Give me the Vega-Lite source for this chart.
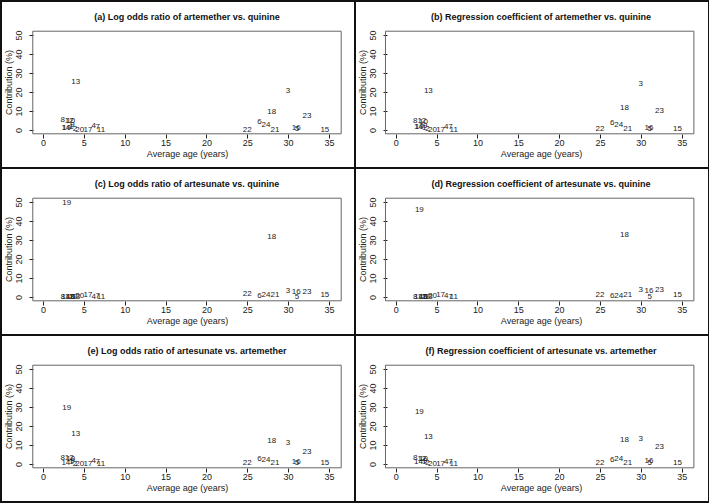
{
  "$schema": "https://vega.github.io/schema/vega-lite/v6.json",
  "padding": 0,
  "background": "white",
  "config": {
    "view": {"stroke": "#111", "strokeWidth": 2},
    "font": "Liberation Sans",
    "axis": {"domain": false, "grid": false, "tickSize": 4, "tickColor": "#222", "labelFontSize": 9, "labelColor": "#222", "labelFont": "Liberation Sans", "titleFont": "Liberation Sans", "titleFontSize": 9, "titleFontWeight": "normal", "titleColor": "#222", "labelFlush": false, "labelOverlap": false},
    "title": {"font": "Liberation Sans", "fontSize": 9, "fontWeight": "bold", "color": "#111", "anchor": "middle", "frame": "group", "offset": -21, "baseline": "middle", "dx": 9}
  },
  "datasets": {
    "s": [
      {"study": "1", "age": 3.5, "a": 1.5, "b": 1.2, "c": 0, "d": 0, "e": 0.8, "f": 0.8},
      {"study": "2", "age": 3.9, "a": 0.3, "b": 0.3, "c": 0, "d": 0, "e": 0.2, "f": 0.3},
      {"study": "3", "age": 30.0, "a": 20.5, "b": 24.0, "c": 3.3, "d": 3.9, "e": 10.9, "f": 13.2},
      {"study": "4", "age": 6.2, "a": 2.0, "b": 1.6, "c": 0, "d": 0.3, "e": 1.4, "f": 1.2},
      {"study": "5", "age": 31.1, "a": 0.7, "b": 0.7, "c": 0, "d": 0, "e": 0.3, "f": 0.5},
      {"study": "6", "age": 26.5, "a": 4.4, "b": 3.7, "c": 0.3, "d": 0.5, "e": 2.4, "f": 2.2},
      {"study": "7", "age": 6.7, "a": 1.6, "b": 1.4, "c": 0.3, "d": 0.2, "e": 1.2, "f": 1.0},
      {"study": "8", "age": 2.4, "a": 5.1, "b": 5.0, "c": 0, "d": 0, "e": 2.9, "f": 3.0},
      {"study": "9", "age": 3.6, "a": 2.5, "b": 2.2, "c": 0, "d": 0, "e": 1.5, "f": 1.5},
      {"study": "10", "age": 3.4, "a": 4.6, "b": 4.2, "c": 0, "d": 0, "e": 2.6, "f": 2.5},
      {"study": "11", "age": 7.1, "a": 0, "b": 0, "c": 0, "d": 0, "e": 0, "f": 0},
      {"study": "12", "age": 3.2, "a": 5.0, "b": 4.9, "c": 0, "d": 0, "e": 2.9, "f": 2.8},
      {"study": "13", "age": 4.0, "a": 25.4, "b": 20.5, "c": 0, "d": 0, "e": 15.8, "f": 14.0},
      {"study": "14", "age": 2.8, "a": 1.0, "b": 1.6, "c": 0, "d": 0, "e": 0.7, "f": 0.9},
      {"study": "15", "age": 34.5, "a": 0.2, "b": 0.3, "c": 0.8, "d": 0.9, "e": 0.3, "f": 0.3},
      {"study": "16", "age": 31.0, "a": 0.8, "b": 1.0, "c": 2.6, "d": 3.2, "e": 1.2, "f": 1.6},
      {"study": "17", "age": 5.5, "a": 0, "b": 0, "c": 1.2, "d": 1.0, "e": 0, "f": 0},
      {"study": "18", "age": 28.0, "a": 9.3, "b": 11.4, "c": 31.6, "d": 32.8, "e": 12.3, "f": 12.6},
      {"study": "19", "age": 2.9, "a": 1.2, "b": 1.6, "c": 49.3, "d": 45.6, "e": 29.3, "f": 27.5},
      {"study": "20", "age": 4.5, "a": 0, "b": 0, "c": 0.3, "d": 0.3, "e": 0, "f": 0},
      {"study": "21", "age": 28.4, "a": 0.2, "b": 0.3, "c": 1.2, "d": 1.2, "e": 0.5, "f": 0.5},
      {"study": "22", "age": 25.0, "a": 0.2, "b": 0.3, "c": 1.6, "d": 1.3, "e": 0.5, "f": 0.5},
      {"study": "23", "age": 32.3, "a": 7.4, "b": 10.0, "c": 2.6, "d": 3.5, "e": 6.3, "f": 9.1},
      {"study": "24", "age": 27.3, "a": 2.6, "b": 2.6, "c": 0.8, "d": 0.7, "e": 2.2, "f": 2.4}
    ]
  },
  "columns": 2,
  "spacing": 0,
  "bounds": "flush",
  "concat": [
    {
      "width": 354, "height": 167,
      "title": {"text": "(a) Log odds ratio of artemether vs. quinine"},
      "layer": [
        {"data": {"values": [{}]}, "mark": {"type": "rect", "fillOpacity": 0, "stroke": "#666", "strokeWidth": 1},
         "encoding": {
           "x": {"datum": -1.25, "type": "quantitative", "scale": {"domain": [-5.14, 38.19], "nice": false, "zero": false}, "axis": {"title": "Average age (years)", "values": [0, 5, 10, 15, 20, 25, 30, 35], "offset": -34, "labelPadding": 0, "titlePadding": 2, "titleX": 186, "labelOverlap": false}},
           "x2": {"datum": 36.5},
           "y": {"datum": -2, "type": "quantitative", "scale": {"domain": [-20, 67.9], "nice": false, "zero": false}, "axis": {"title": "Contribution (%)", "values": [0, 10, 20, 30, 40, 50], "offset": -32, "labelAngle": 270, "labelAlign": "center", "labelBaseline": "bottom", "labelPadding": 6, "labelOverlap": false, "titleX": -25, "titleY": 81, "titleAngle": 270, "titleAlign": "center", "titleBaseline": "middle"}},
           "y2": {"datum": 52}}},
        {"data": {"name": "s"}, "mark": {"type": "text", "fontSize": 8, "color": "#222", "align": "center", "baseline": "middle"},
         "encoding": {
           "x": {"field": "age", "type": "quantitative", "axis": {"title": "Average age (years)", "values": [0, 5, 10, 15, 20, 25, 30, 35], "offset": -34, "labelPadding": 0, "titlePadding": 2, "titleX": 186, "labelOverlap": false}},
           "y": {"field": "a", "type": "quantitative", "axis": {"title": "Contribution (%)", "values": [0, 10, 20, 30, 40, 50], "offset": -32, "labelAngle": 270, "labelAlign": "center", "labelBaseline": "bottom", "labelPadding": 6, "labelOverlap": false, "titleX": -25, "titleY": 81, "titleAngle": 270, "titleAlign": "center", "titleBaseline": "middle"}},
           "text": {"field": "study"}}}
      ]
    },
    {
      "width": 354, "height": 167,
      "title": {"text": "(b) Regression coefficient of artemether vs. quinine"},
      "layer": [
        {"data": {"values": [{}]}, "mark": {"type": "rect", "fillOpacity": 0, "stroke": "#666", "strokeWidth": 1},
         "encoding": {
           "x": {"datum": -1.25, "type": "quantitative", "scale": {"domain": [-4.98, 38.35], "nice": false, "zero": false}, "axis": {"title": "Average age (years)", "values": [0, 5, 10, 15, 20, 25, 30, 35], "offset": -34, "labelPadding": 0, "titlePadding": 2, "titleX": 186, "labelOverlap": false}},
           "x2": {"datum": 36.5},
           "y": {"datum": -2, "type": "quantitative", "scale": {"domain": [-20, 67.9], "nice": false, "zero": false}, "axis": {"title": "Contribution (%)", "values": [0, 10, 20, 30, 40, 50], "offset": -32, "labelAngle": 270, "labelAlign": "center", "labelBaseline": "bottom", "labelPadding": 6, "labelOverlap": false, "titleX": -25, "titleY": 81, "titleAngle": 270, "titleAlign": "center", "titleBaseline": "middle"}},
           "y2": {"datum": 52}}},
        {"data": {"name": "s"}, "mark": {"type": "text", "fontSize": 8, "color": "#222", "align": "center", "baseline": "middle"},
         "encoding": {
           "x": {"field": "age", "type": "quantitative", "axis": {"title": "Average age (years)", "values": [0, 5, 10, 15, 20, 25, 30, 35], "offset": -34, "labelPadding": 0, "titlePadding": 2, "titleX": 186, "labelOverlap": false}},
           "y": {"field": "b", "type": "quantitative", "axis": {"title": "Contribution (%)", "values": [0, 10, 20, 30, 40, 50], "offset": -32, "labelAngle": 270, "labelAlign": "center", "labelBaseline": "bottom", "labelPadding": 6, "labelOverlap": false, "titleX": -25, "titleY": 81, "titleAngle": 270, "titleAlign": "center", "titleBaseline": "middle"}},
           "text": {"field": "study"}}}
      ]
    },
    {
      "width": 354, "height": 167,
      "title": {"text": "(c) Log odds ratio of artesunate vs. quinine"},
      "layer": [
        {"data": {"values": [{}]}, "mark": {"type": "rect", "fillOpacity": 0, "stroke": "#666", "strokeWidth": 1},
         "encoding": {
           "x": {"datum": -1.25, "type": "quantitative", "scale": {"domain": [-5.14, 38.19], "nice": false, "zero": false}, "axis": {"title": "Average age (years)", "values": [0, 5, 10, 15, 20, 25, 30, 35], "offset": -34, "labelPadding": 0, "titlePadding": 2, "titleX": 186, "labelOverlap": false}},
           "x2": {"datum": 36.5},
           "y": {"datum": -2, "type": "quantitative", "scale": {"domain": [-20, 67.9], "nice": false, "zero": false}, "axis": {"title": "Contribution (%)", "values": [0, 10, 20, 30, 40, 50], "offset": -32, "labelAngle": 270, "labelAlign": "center", "labelBaseline": "bottom", "labelPadding": 6, "labelOverlap": false, "titleX": -25, "titleY": 81, "titleAngle": 270, "titleAlign": "center", "titleBaseline": "middle"}},
           "y2": {"datum": 52}}},
        {"data": {"name": "s"}, "mark": {"type": "text", "fontSize": 8, "color": "#222", "align": "center", "baseline": "middle"},
         "encoding": {
           "x": {"field": "age", "type": "quantitative", "axis": {"title": "Average age (years)", "values": [0, 5, 10, 15, 20, 25, 30, 35], "offset": -34, "labelPadding": 0, "titlePadding": 2, "titleX": 186, "labelOverlap": false}},
           "y": {"field": "c", "type": "quantitative", "axis": {"title": "Contribution (%)", "values": [0, 10, 20, 30, 40, 50], "offset": -32, "labelAngle": 270, "labelAlign": "center", "labelBaseline": "bottom", "labelPadding": 6, "labelOverlap": false, "titleX": -25, "titleY": 81, "titleAngle": 270, "titleAlign": "center", "titleBaseline": "middle"}},
           "text": {"field": "study"}}}
      ]
    },
    {
      "width": 354, "height": 167,
      "title": {"text": "(d) Regression coefficient of artesunate vs. quinine"},
      "layer": [
        {"data": {"values": [{}]}, "mark": {"type": "rect", "fillOpacity": 0, "stroke": "#666", "strokeWidth": 1},
         "encoding": {
           "x": {"datum": -1.25, "type": "quantitative", "scale": {"domain": [-4.98, 38.35], "nice": false, "zero": false}, "axis": {"title": "Average age (years)", "values": [0, 5, 10, 15, 20, 25, 30, 35], "offset": -34, "labelPadding": 0, "titlePadding": 2, "titleX": 186, "labelOverlap": false}},
           "x2": {"datum": 36.5},
           "y": {"datum": -2, "type": "quantitative", "scale": {"domain": [-20, 67.9], "nice": false, "zero": false}, "axis": {"title": "Contribution (%)", "values": [0, 10, 20, 30, 40, 50], "offset": -32, "labelAngle": 270, "labelAlign": "center", "labelBaseline": "bottom", "labelPadding": 6, "labelOverlap": false, "titleX": -25, "titleY": 81, "titleAngle": 270, "titleAlign": "center", "titleBaseline": "middle"}},
           "y2": {"datum": 52}}},
        {"data": {"name": "s"}, "mark": {"type": "text", "fontSize": 8, "color": "#222", "align": "center", "baseline": "middle"},
         "encoding": {
           "x": {"field": "age", "type": "quantitative", "axis": {"title": "Average age (years)", "values": [0, 5, 10, 15, 20, 25, 30, 35], "offset": -34, "labelPadding": 0, "titlePadding": 2, "titleX": 186, "labelOverlap": false}},
           "y": {"field": "d", "type": "quantitative", "axis": {"title": "Contribution (%)", "values": [0, 10, 20, 30, 40, 50], "offset": -32, "labelAngle": 270, "labelAlign": "center", "labelBaseline": "bottom", "labelPadding": 6, "labelOverlap": false, "titleX": -25, "titleY": 81, "titleAngle": 270, "titleAlign": "center", "titleBaseline": "middle"}},
           "text": {"field": "study"}}}
      ]
    },
    {
      "width": 354, "height": 167,
      "title": {"text": "(e) Log odds ratio of artesunate vs. artemether"},
      "layer": [
        {"data": {"values": [{}]}, "mark": {"type": "rect", "fillOpacity": 0, "stroke": "#666", "strokeWidth": 1},
         "encoding": {
           "x": {"datum": -1.25, "type": "quantitative", "scale": {"domain": [-5.14, 38.19], "nice": false, "zero": false}, "axis": {"title": "Average age (years)", "values": [0, 5, 10, 15, 20, 25, 30, 35], "offset": -34, "labelPadding": 0, "titlePadding": 2, "titleX": 186, "labelOverlap": false}},
           "x2": {"datum": 36.5},
           "y": {"datum": -2, "type": "quantitative", "scale": {"domain": [-20, 67.9], "nice": false, "zero": false}, "axis": {"title": "Contribution (%)", "values": [0, 10, 20, 30, 40, 50], "offset": -32, "labelAngle": 270, "labelAlign": "center", "labelBaseline": "bottom", "labelPadding": 6, "labelOverlap": false, "titleX": -25, "titleY": 81, "titleAngle": 270, "titleAlign": "center", "titleBaseline": "middle"}},
           "y2": {"datum": 52}}},
        {"data": {"name": "s"}, "mark": {"type": "text", "fontSize": 8, "color": "#222", "align": "center", "baseline": "middle"},
         "encoding": {
           "x": {"field": "age", "type": "quantitative", "axis": {"title": "Average age (years)", "values": [0, 5, 10, 15, 20, 25, 30, 35], "offset": -34, "labelPadding": 0, "titlePadding": 2, "titleX": 186, "labelOverlap": false}},
           "y": {"field": "e", "type": "quantitative", "axis": {"title": "Contribution (%)", "values": [0, 10, 20, 30, 40, 50], "offset": -32, "labelAngle": 270, "labelAlign": "center", "labelBaseline": "bottom", "labelPadding": 6, "labelOverlap": false, "titleX": -25, "titleY": 81, "titleAngle": 270, "titleAlign": "center", "titleBaseline": "middle"}},
           "text": {"field": "study"}}}
      ]
    },
    {
      "width": 354, "height": 167,
      "title": {"text": "(f) Regression coefficient of artesunate vs. artemether"},
      "layer": [
        {"data": {"values": [{}]}, "mark": {"type": "rect", "fillOpacity": 0, "stroke": "#666", "strokeWidth": 1},
         "encoding": {
           "x": {"datum": -1.25, "type": "quantitative", "scale": {"domain": [-4.98, 38.35], "nice": false, "zero": false}, "axis": {"title": "Average age (years)", "values": [0, 5, 10, 15, 20, 25, 30, 35], "offset": -34, "labelPadding": 0, "titlePadding": 2, "titleX": 186, "labelOverlap": false}},
           "x2": {"datum": 36.5},
           "y": {"datum": -2, "type": "quantitative", "scale": {"domain": [-20, 67.9], "nice": false, "zero": false}, "axis": {"title": "Contribution (%)", "values": [0, 10, 20, 30, 40, 50], "offset": -32, "labelAngle": 270, "labelAlign": "center", "labelBaseline": "bottom", "labelPadding": 6, "labelOverlap": false, "titleX": -25, "titleY": 81, "titleAngle": 270, "titleAlign": "center", "titleBaseline": "middle"}},
           "y2": {"datum": 52}}},
        {"data": {"name": "s"}, "mark": {"type": "text", "fontSize": 8, "color": "#222", "align": "center", "baseline": "middle"},
         "encoding": {
           "x": {"field": "age", "type": "quantitative", "axis": {"title": "Average age (years)", "values": [0, 5, 10, 15, 20, 25, 30, 35], "offset": -34, "labelPadding": 0, "titlePadding": 2, "titleX": 186, "labelOverlap": false}},
           "y": {"field": "f", "type": "quantitative", "axis": {"title": "Contribution (%)", "values": [0, 10, 20, 30, 40, 50], "offset": -32, "labelAngle": 270, "labelAlign": "center", "labelBaseline": "bottom", "labelPadding": 6, "labelOverlap": false, "titleX": -25, "titleY": 81, "titleAngle": 270, "titleAlign": "center", "titleBaseline": "middle"}},
           "text": {"field": "study"}}}
      ]
    }
  ]
}
